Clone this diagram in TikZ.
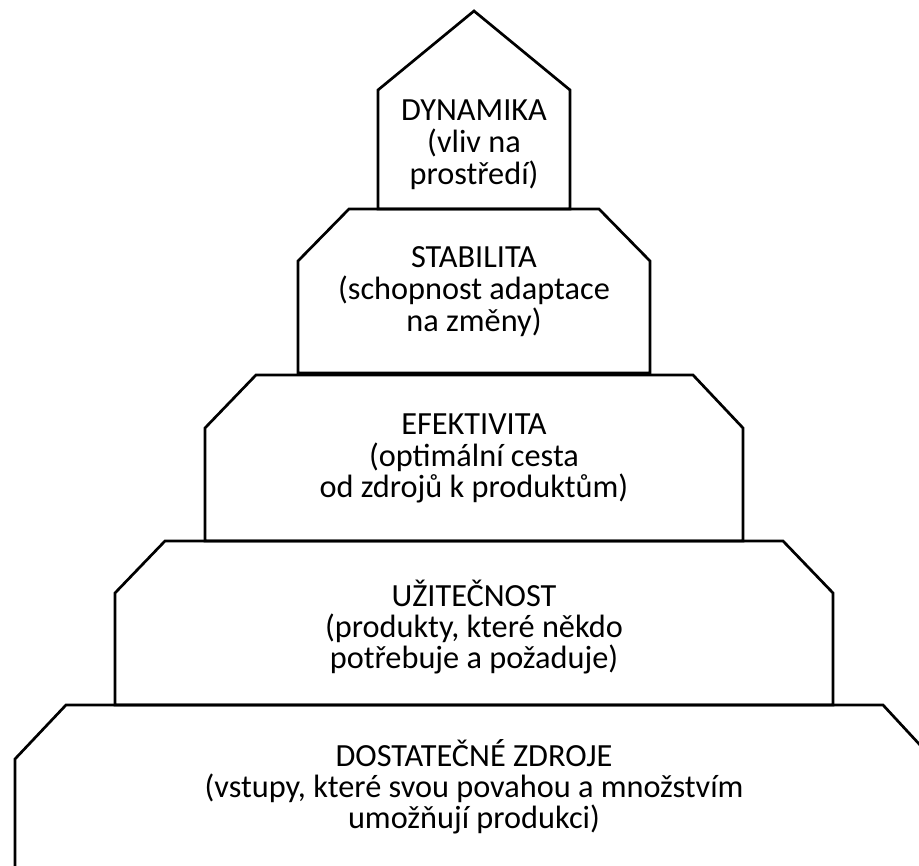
\documentclass[tikz,border=0pt]{standalone}
\usepackage{fontspec}
\setmainfont{Carlito}
\begin{document}
\begin{tikzpicture}[x=1pt,y=-1pt,
  tier/.style={draw=black,line width=2.7pt,line join=miter},
  lbl/.style={anchor=base,font=\fontsize{32.3}{33}\selectfont,inner sep=0pt,text=black}]
\useasboundingbox (0,0) rectangle (919,866);
\clip (0,0) rectangle (919,866);
% shapes
\draw[tier] (378,209) -- (378,90) -- (474,11) -- (570,90) -- (570,209) -- cycle;
\draw[tier] (298,373) -- (298,261) -- (349,209) -- (599,209) -- (650,261) -- (650,373) -- cycle;
\draw[tier] (205,541) -- (205,428) -- (256,375) -- (693,375) -- (743,428) -- (743,541) -- cycle;
\draw[tier] (115,705) -- (115,593) -- (165,541) -- (783,541) -- (833,593) -- (833,705) -- cycle;
\draw[tier] (15,900) -- (15,759) -- (66,705) -- (883,705) -- (933,759) -- (933,900);
% texts
\node[lbl] (t1a) at (474,121) {DYNAMIKA};
\node[lbl] (t1b) at (474,153) {(vliv na};
\node[lbl] (t1c) at (474,185) {prostředí)};
\node[lbl] (t2a) at (474,268) {STABILITA};
\node[lbl] (t2b) at (474,300) {(schopnost adaptace};
\node[lbl] (t2c) at (474,332) {na změny)};
\node[lbl] (t3a) at (474,435) {EFEKTIVITA};
\node[lbl] (t3b) at (474,467) {(optimální cesta};
\node[lbl] (t3c) at (474,498) {od zdrojů k produktům)};
\node[lbl] (t4a) at (474,606) {UŽITEČNOST};
\node[lbl] (t4b) at (474,637) {(produkty, které někdo};
\node[lbl] (t4c) at (474,668) {potřebuje a požaduje)};
\node[lbl] (t5a) at (474,766) {DOSTATEČNÉ ZDROJE};
\node[lbl] (t5b) at (474,797) {(vstupy, které svou povahou a množstvím};
\node[lbl] (t5c) at (474,828) {umožňují produkci)};
\end{tikzpicture}
\end{document}
